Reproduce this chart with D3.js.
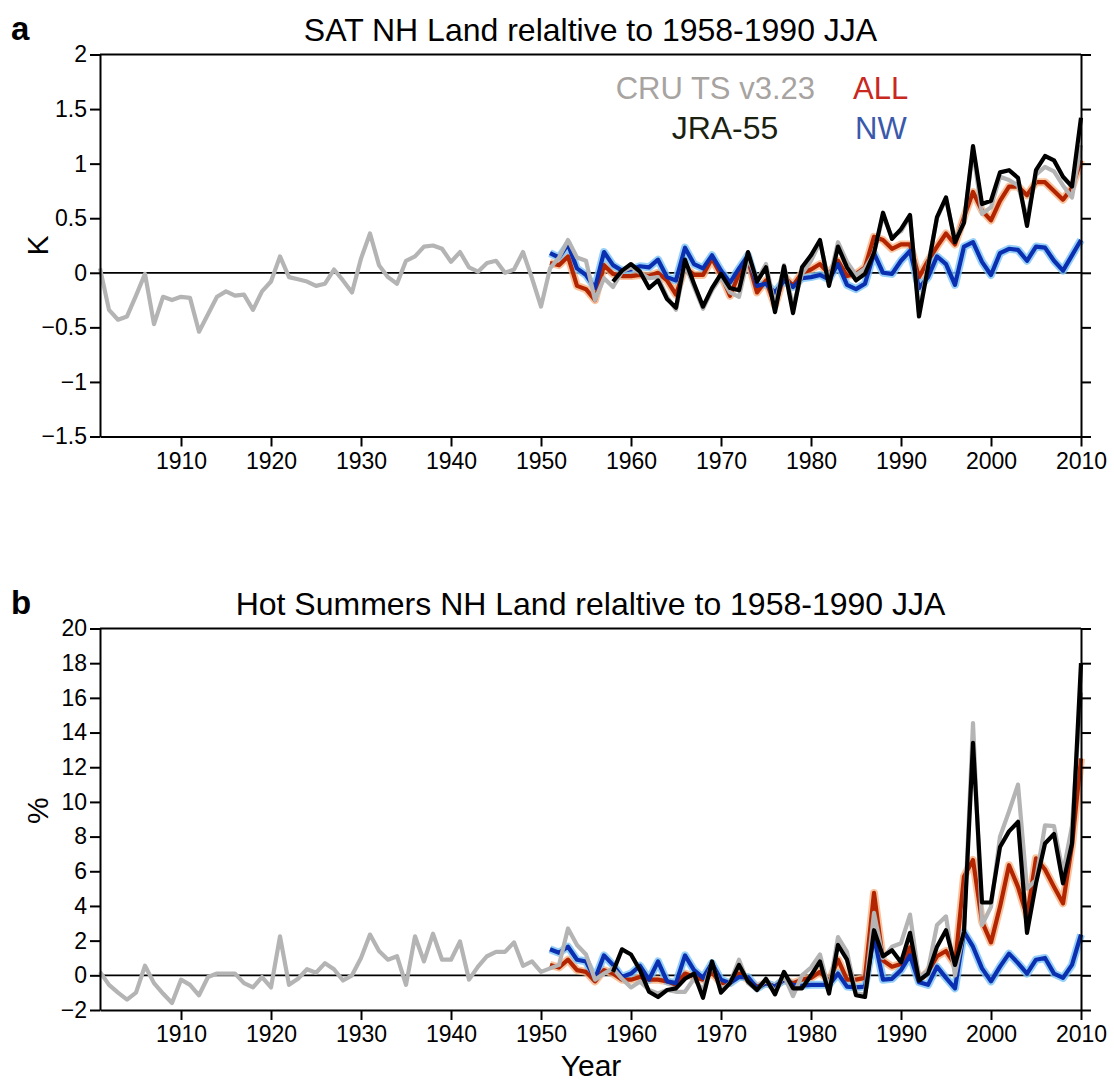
<!DOCTYPE html>
<html>

<head>
  <meta http-equiv="Content-Type" content="text/html;charset=utf-8" />
  <style type="text/css">
    body { margin: 0; background: #fff; }
    text { font-family: "Liberation Sans", Arial, sans-serif; }
    .axis path, .axis line { stroke: #000; stroke-width: 2; }
    .axis text { font-size: 23px; fill: #000; }
  </style>
</head>

<body>
  <div id="svgContainer"></div>
  <script src="https://d3js.org/d3.v7.min.js"></script>

  <script type="text/javascript">
    // ---- data ----
    var cruYears = d3.range(1901, 2011);
    var modelYears = d3.range(1951, 2011);
    var jraYears = d3.range(1958, 2011);

    var xTicks = [1910, 1920, 1930, 1940, 1950, 1960, 1970, 1980, 1990, 2000, 2010];
    var yTicksA = [2, 1.5, 1, 0.5, 0, -0.5, -1, -1.5];
    var yTicksB = [20, 18, 16, 14, 12, 10, 8, 6, 4, 2, 0, -2];

    // panel a: SAT anomaly (K)
    var cruA = [
      0.04, -0.34, -0.43, -0.40, -0.21, -0.01, -0.47, -0.22, -0.25, -0.22,
      -0.23, -0.54, -0.38, -0.22, -0.17, -0.21, -0.20, -0.34, -0.17, -0.08,
      0.15, -0.04, -0.06, -0.08, -0.12, -0.10, 0.03, -0.07, -0.18, 0.13,
      0.36, 0.07, -0.04, -0.10, 0.11, 0.15, 0.24, 0.25, 0.22, 0.10,
      0.19, 0.05, 0.01, 0.09, 0.11, 0.00, 0.03, 0.19, -0.05, -0.31,
      0.04, 0.14, 0.30, 0.14, 0.11, -0.25, -0.05, -0.13, 0.01, 0.05,
      0.00, -0.05, -0.04, -0.22, -0.34, 0.08, -0.13, -0.33, -0.16, -0.04,
      -0.18, -0.22, 0.14, -0.07, 0.08, -0.31, 0.07, -0.31, -0.01, 0.11,
      0.28, -0.08, 0.28, 0.10, -0.02, 0.04, 0.18, 0.52, 0.33, 0.38,
      0.52, -0.36, 0.07, 0.50, 0.68, 0.30, 0.47, 1.12, 0.54, 0.60,
      0.88, 0.85, 0.80, 0.50, 0.90, 0.97, 0.93, 0.80, 0.69, 1.17
    ];
    var jraA = [
      -0.08, 0.02, 0.08,
      0.01, -0.14, -0.07, -0.24, -0.32, 0.12, -0.10, -0.31, -0.14, -0.01,
      -0.14, -0.16, 0.19, -0.08, 0.05, -0.36, 0.06, -0.37, 0.05, 0.16,
      0.30, -0.12, 0.24, 0.05, -0.07, -0.01, 0.18, 0.55, 0.31, 0.40,
      0.53, -0.40, 0.05, 0.51, 0.69, 0.28, 0.46, 1.16, 0.63, 0.66,
      0.92, 0.94, 0.87, 0.43, 0.94, 1.07, 1.03, 0.88, 0.79, 1.42
    ];
    var allA = [
      0.09, 0.07, 0.15, -0.12, -0.15, -0.25, 0.07, -0.01, -0.03, -0.03,
      -0.02, -0.03, 0.00, -0.07, -0.20, 0.05, -0.02, -0.02, 0.13, -0.02,
      -0.21, -0.01, 0.12, -0.18, -0.07, -0.30, -0.03, -0.12, 0.00, 0.03,
      0.08, -0.01, 0.11, -0.03, -0.01, 0.05, 0.33, 0.30, 0.22, 0.26,
      0.26, -0.04, 0.11, 0.24, 0.36, 0.26, 0.51, 0.74, 0.57, 0.48,
      0.66, 0.79, 0.79, 0.71, 0.83, 0.83, 0.75, 0.67, 0.78, 1.03
    ];
    var nwA = [
      0.18, 0.14, 0.26, 0.04, -0.02, -0.14, 0.19, 0.07, 0.02, 0.03,
      0.06, 0.05, 0.12, -0.04, -0.07, 0.23, 0.08, 0.04, 0.16, 0.02,
      -0.09, 0.04, 0.16, -0.12, -0.10, -0.18, -0.07, -0.13, -0.05, -0.04,
      -0.02, -0.06, 0.08, -0.11, -0.15, -0.10, 0.18, 0.00, -0.01, 0.11,
      0.20, -0.14, -0.04, 0.15, 0.08, -0.11, 0.24, 0.28, 0.10, -0.02,
      0.18, 0.22, 0.21, 0.11, 0.24, 0.23, 0.11, 0.02, 0.16, 0.30
    ];

    // panel b: hot summers (%)
    var cruB = [
      0.2, -0.55, -1.0, -1.4, -1.0, 0.55, -0.45, -1.05, -1.6, -0.25,
      -0.55, -1.15, -0.1, 0.1, 0.1, 0.1, -0.45, -0.7, -0.1, -0.7,
      2.25, -0.55, -0.2, 0.35, 0.15, 0.7, 0.35, -0.3, 0.0, 1.0,
      2.35, 1.4, 0.9, 1.1, -0.55, 2.25, 0.8, 2.4, 0.9, 0.9,
      1.95, -0.25, 0.5, 1.1, 1.35, 1.35, 1.9, 0.55, 0.8, 0.2,
      0.4, 0.6, 2.7, 1.75, 1.2, -0.25, 0.1, 0.4, -0.2, -0.7,
      -0.35, -0.85, -1.05, -0.85, -0.95, -0.95, -0.2, -0.85, 0.7, -0.85,
      -0.45, 0.9, -0.45, -0.85, -0.25, -0.95, 0.0, -1.2, 0.0, 0.45,
      1.2, -0.85, 2.2, 1.35, -1.05, -1.1, 3.6, 1.0, 1.65, 1.85,
      3.5, -0.15, 0.3, 2.9, 3.4, 0.0, 2.6, 14.55, 2.9, 3.95,
      8.0, 9.45, 11.0, 5.0, 5.5, 8.65, 8.6, 5.9, 8.6, 16.3
    ];
    var jraB = [
      0.2, 1.5, 1.2,
      0.3, -0.95, -1.25, -0.85, -0.75, -0.2, 0.1, -1.3, 0.8, -1.0,
      -0.45, 0.6, -0.35, -0.85, -0.2, -1.1, 0.2, -0.75, -0.75, 0.0,
      0.8, -1.05, 1.75, 0.9, -1.15, -1.25, 2.6, 1.1, 1.45, 0.75,
      2.45, -0.3, 0.1, 1.65, 2.6, 0.6, 2.5, 13.4, 4.2, 4.2,
      7.4, 8.3, 8.85, 2.45, 5.3, 7.6, 8.15, 5.3, 7.6, 18.0
    ];
    var allB = [
      0.6, 0.45, 0.9, 0.3, 0.2, -0.35, 0.3, 0.1, -0.25, -0.25,
      -0.1, -0.25, -0.25, -0.35, -0.55, 0.1, -0.1, -0.25, 0.15, -0.45,
      -0.45, 0.1, -0.25, -0.65, -0.45, -0.65, -0.25, -0.45, -0.25, -0.15,
      0.2, -0.35, 0.9, -0.25, -0.25, -0.15, 4.75, 0.85, 0.5, 0.65,
      1.6, -0.25, 0.2, 1.1, 1.4, 0.6, 5.7, 6.65, 3.1, 1.9,
      3.95, 6.35, 5.1, 3.4, 6.75, 6.1, 5.1, 4.15, 7.5, 12.5
    ];
    var nwB = [
      1.5, 1.3, 1.65, 0.9, 0.8, -0.2, 1.15, 0.6, -0.1, 0.1,
      0.55, -0.25, 0.8, -0.35, -0.45, 1.15, 0.3, -0.15, 0.7, -0.25,
      -0.45, -0.1, -0.1, -0.75, -0.45, -0.65, -0.25, -0.55, -0.6, -0.55,
      -0.55, -0.55, 0.1, -0.65, -0.7, -0.65, 2.2, -0.25, -0.2, 0.3,
      1.15, -0.4, -0.55, 0.5, -0.15, -0.75, 2.5, 1.65, 0.4, -0.35,
      0.5, 1.25, 0.7, 0.1, 0.9, 1.0, 0.1, -0.15, 0.6, 2.35
    ];

    // ---- drawing ----
    var w = 1114, h = 1083;
    var left = 100, right = 1081;

    var svg = d3.select("#svgContainer")
      .append("svg")
      .attr("width", w)
      .attr("height", h);

    var xScale = d3.scaleLinear().domain([1901, 2010]).range([left, right]);

    function zip(years, vals) {
      return years.map(function (y, i) { return [y, vals[i]]; });
    }

    function minusFmt(d) { return String(d).replace("-", "\u2212"); }

    function panel(opt) {
      var yScale = d3.scaleLinear().domain(opt.domain).range([opt.bottom, opt.top]);
      var g = svg.append("g");

      var line = d3.line()
        .x(function (d) { return xScale(d[0]); })
        .y(function (d) { return yScale(d[1]); });

      // zero line
      g.append("line")
        .attr("x1", left).attr("x2", right)
        .attr("y1", yScale(0)).attr("y2", yScale(0))
        .attr("stroke", "#000").attr("stroke-width", 1.8);

      // ensemble spread (light halo)
      g.append("path").attr("d", line(zip(modelYears, opt.all)))
        .attr("fill", "none").attr("stroke", "#f7b486").attr("stroke-width", 8)
        .attr("stroke-linejoin", "round").attr("opacity", 0.8);
      g.append("path").attr("d", line(zip(modelYears, opt.nw)))
        .attr("fill", "none").attr("stroke", "#7cc4f6").attr("stroke-width", 8)
        .attr("stroke-linejoin", "round").attr("opacity", 0.8);

      var series = [
        { data: zip(modelYears, opt.all), color: "#b32400" },
        { data: zip(modelYears, opt.nw), color: "#0a2fb0" },
        { data: zip(cruYears, opt.cru), color: "#b4b4b4" },
        { data: zip(jraYears, opt.jra), color: "#000000" }
      ];
      series.forEach(function (s) {
        g.append("path").attr("d", line(s.data))
          .attr("fill", "none").attr("stroke", s.color).attr("stroke-width", 4.2)
          .attr("stroke-linejoin", "round");
      });

      // frame + axes
      g.append("line").attr("x1", left).attr("x2", right)
        .attr("y1", opt.top).attr("y2", opt.top)
        .attr("stroke", "#000").attr("stroke-width", 2);

      g.append("g").attr("class", "axis")
        .attr("transform", "translate(" + left + ",0)")
        .call(d3.axisLeft(yScale).tickValues(opt.yTicks).tickFormat(minusFmt)
          .tickSize(10).tickPadding(3).tickSizeOuter(0));
      g.append("g").attr("class", "axis")
        .attr("transform", "translate(" + right + ",0)")
        .call(d3.axisRight(yScale).tickValues(opt.yTicks).tickFormat("")
          .tickSize(10).tickSizeOuter(0));
      g.append("g").attr("class", "axis")
        .attr("transform", "translate(0," + opt.bottom + ")")
        .call(d3.axisBottom(xScale).tickValues(xTicks).tickFormat(d3.format("d"))
          .tickSize(10).tickPadding(6).tickSizeOuter(0));

      // title, panel letter, y label
      svg.append("text").attr("x", (left + right) / 2).attr("y", opt.top - 14)
        .attr("text-anchor", "middle").attr("font-size", 32).text(opt.title);
      svg.append("text").attr("x", 11).attr("y", opt.top - 15)
        .attr("font-size", 33).attr("font-weight", "bold").text(opt.letter);
      svg.append("text")
        .attr("transform", "translate(48," + yScale(opt.labelAt) + ") rotate(-90)")
        .attr("text-anchor", "middle").attr("font-size", 30).text(opt.ylabel);

      return yScale;
    }

    panel({
      domain: [-1.5, 2], top: 54.5, bottom: 436.5, yTicks: yTicksA,
      cru: cruA, jra: jraA, all: allA, nw: nwA,
      title: "SAT NH Land relaltive to 1958-1990 JJA", letter: "a",
      ylabel: "K", labelAt: 0.25
    });

    panel({
      domain: [-2, 20], top: 628.5, bottom: 1010, yTicks: yTicksB,
      cru: cruB, jra: jraB, all: allB, nw: nwB,
      title: "Hot Summers NH Land relaltive to 1958-1990 JJA", letter: "b",
      ylabel: "%", labelAt: 9.5
    });

    // legend
    var legend = [
      { text: "CRU TS v3.23", x: 815, y: 99, anchor: "end", color: "#a7a3a1", size: 31 },
      { text: "ALL", x: 853, y: 99, anchor: "start", color: "#c8281e", size: 31 },
      { text: "JRA-55", x: 725, y: 139, anchor: "middle", color: "#1b2110", size: 32 },
      { text: "NW", x: 855, y: 139, anchor: "start", color: "#3a59ab", size: 31 }
    ];
    svg.selectAll(".legend").data(legend).enter().append("text")
      .attr("class", "legend")
      .attr("x", function (d) { return d.x; })
      .attr("y", function (d) { return d.y; })
      .attr("text-anchor", function (d) { return d.anchor; })
      .attr("fill", function (d) { return d.color; })
      .attr("font-size", function (d) { return d.size; })
      .text(function (d) { return d.text; });

    svg.append("text").attr("x", 591).attr("y", 1076)
      .attr("text-anchor", "middle").attr("font-size", 30).text("Year");
  </script>
</body>

</html>
